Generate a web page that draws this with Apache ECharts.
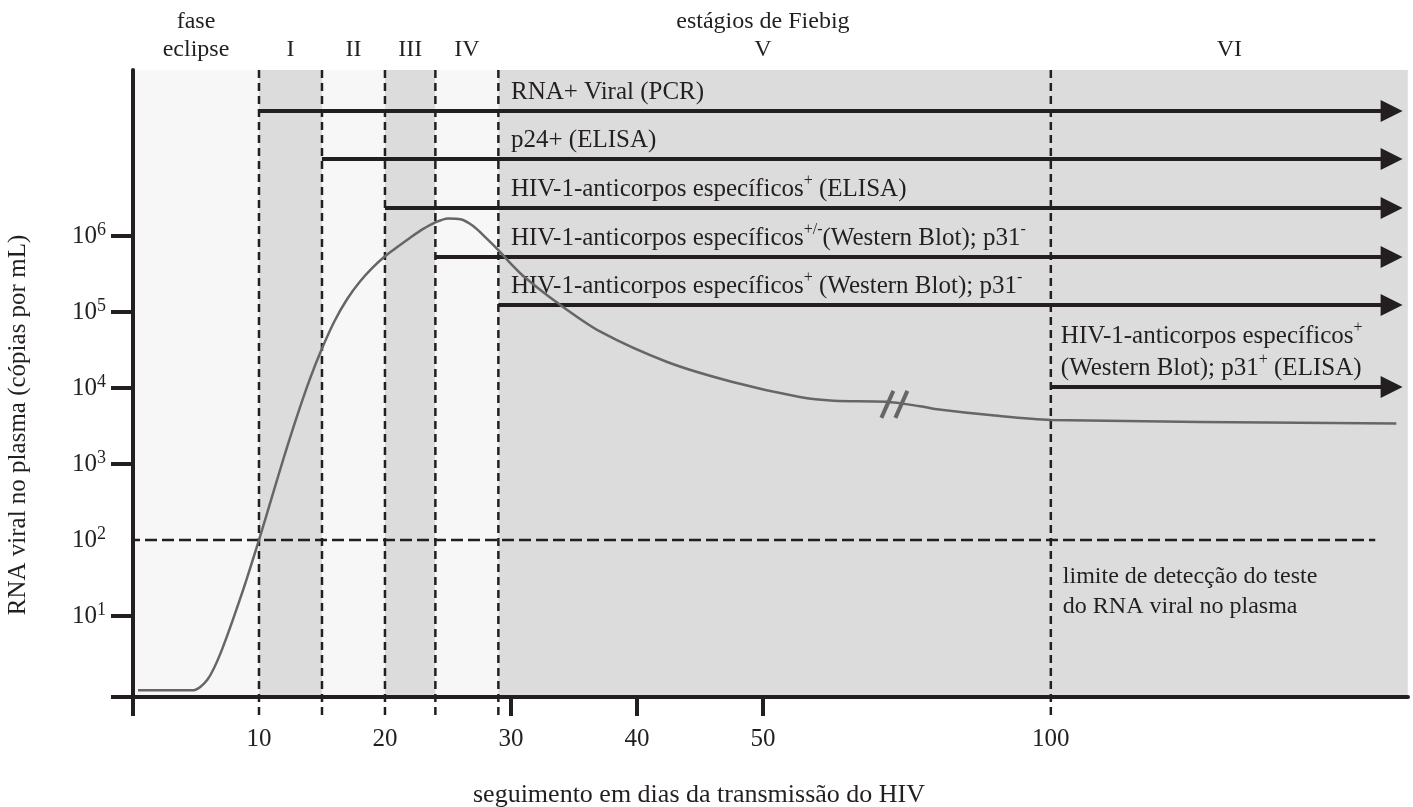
<!DOCTYPE html>
<html>
<head>
<meta charset="utf-8">
<script src="https://cdn.jsdelivr.net/npm/echarts@6/dist/echarts.min.js"></script>
<style>
  html, body { margin: 0; padding: 0; background: #fff; }
  #chart { width: 1413px; height: 807px; }
</style>
</head>
<body>
<div id="chart"></div>
<script>
// fases (dias desde a transmissão)
const phaseNames = ['fase\neclipse', 'I', 'II', 'III', 'IV', 'V', 'VI'];
const phaseStart = [0, 10, 15, 20, 24, 29, 100];
const phaseEnd = [10, 15, 20, 24, 29, 100, 162];

// curva da carga viral (dias, cópias por mL)
const viralDays = [0.4, 4.7, 5.9, 7.0, 8.7, 10, 11, 12, 13, 14, 15, 16, 17, 18, 19, 20, 21, 22, 23, 24, 25, 26, 27, 28, 29, 30, 31, 33.6, 37.1, 42.4, 47.6, 56.4, 62.3, 71.4, 77.3, 80.6, 89.4, 100, 160];
const viralLoad = [1.05, 1.05, 1.45, 3.4, 21, 100, 355, 1260, 4170, 1.26e4, 3.3e4, 7.6e4, 1.48e5, 2.5e5, 3.8e5, 5.4e5, 7.2e5, 9.5e5, 1.23e6, 1.51e6, 1.70e6, 1.66e6, 1.35e6, 9.5e5, 6.5e5, 4.3e5, 2.95e5, 1.35e5, 5.5e4, 2.2e4, 1.2e4, 7.6e3, 6.8e3, 6.6e3, 5.75e3, 5.2e3, 4.4e3, 3.8e3, 3.4e3];

// testes positivos a partir do dia
const testLabels = [
    'RNA+ Viral (PCR)',
    'p24+ (ELISA)',
    'HIV-1-anticorpos específicos{s|+} (ELISA)',
    'HIV-1-anticorpos específicos{s|+/-}(Western Blot); p31{s|-}',
    'HIV-1-anticorpos específicos{s|+} (Western Blot); p31{s|-}',
    'HIV-1-anticorpos específicos{s|+}\n(Western Blot); p31{s|+} (ELISA)'
];
const testStartDay = [10, 15, 20, 24, 29, 100];

const dayTicks = [10, 20, 30, 40, 50, 100];
const logTicks = [1, 2, 3, 4, 5, 6];
const detectionLimit = 100;
const axisBreakDay = 73;

// eixo x quebrado: linear até 50 dias, comprimido depois
const linearUntil = 50, compress = 0.457;
function pos(d) { return d <= linearUntil ? d : linearUntil + (d - linearUntil) * compress; }
function dayOf(p) { return p <= linearUntil ? p : linearUntil + (p - linearUntil) / compress; }

const ink = '#231f20';
const serif = "'Liberation Serif', 'Times New Roman', serif";
const xMax = 101.2, yMin = -0.066, yMax = 8.184;
const arrowRows = [7.645, 7.013, 6.368, 5.724, 5.092, 4.013];
const bandColor = i => (i === 0 || i === 2 || i === 4) ? '#f7f7f7' : '#dcdcdc';

const chart = echarts.init(document.getElementById('chart'));

const option = {
    animation: false,
    grid: { left: 133, right: 5, top: 70, bottom: 110 },
    xAxis: {
        type: 'value',
        min: 0,
        max: xMax,
        z: 8,
        splitLine: { show: false },
        axisLine: { onZero: false, lineStyle: { color: ink, width: 4 } },
        axisTick: { customValues: [0, 30, 40, 50], length: 19, lineStyle: { color: ink, width: 4 } },
        axisLabel: {
            customValues: dayTicks.map(pos),
            formatter: v => String(Math.round(dayOf(v))),
            margin: 30,
            color: ink,
            fontSize: 25,
            fontFamily: serif
        }
    },
    yAxis: {
        type: 'value',
        min: yMin,
        max: yMax,
        z: 8,
        splitLine: { show: false },
        axisLine: { show: true, onZero: false, lineStyle: { color: ink, width: 4 } },
        axisTick: { show: true, customValues: [yMin, 1, 3, 4, 5, 6], length: 22, lineStyle: { color: ink, width: 4 } },
        axisLabel: {
            customValues: logTicks,
            formatter: v => '{b|10}{s|' + v + '}',
            margin: 27,
            color: ink,
            rich: {
                b: { fontSize: 25, fontFamily: serif, color: ink, lineHeight: 30 },
                s: { fontSize: 18, fontFamily: serif, color: ink, lineHeight: 18, verticalAlign: 'top' }
            }
        }
    },
    series: [
        {
            // faixas das fases
            type: 'line',
            data: [],
            z: 1,
            silent: true,
            markArea: {
                silent: true,
                label: { show: false },
                data: phaseStart.map((s, i) => [
                    { xAxis: pos(s), itemStyle: { color: bandColor(i) } },
                    { xAxis: pos(phaseEnd[i]) }
                ])
            }
        },
        // limites das fases (tracejado)
        ...phaseStart.slice(1).map(d => ({
            type: 'line',
            data: [[pos(d), yMax], [pos(d), yMin - 0.25]],
            clip: false,
            symbol: 'none',
            silent: true,
            z: 3,
            lineStyle: { color: ink, width: 2.5, type: [8, 5] }
        })),
        {
            // limite de detecção
            type: 'line',
            data: [[-22 / 12.6, Math.log10(detectionLimit)], [98.6, Math.log10(detectionLimit)]],
            clip: false,
            symbol: 'none',
            silent: true,
            z: 3,
            lineStyle: { color: ink, width: 2.5, type: [12, 5] }
        },
        {
            // setas dos testes
            type: 'line',
            data: [],
            z: 4,
            silent: true,
            markLine: {
                silent: true,
                symbol: ['none', 'triangle'],
                symbolSize: 22,
                label: { show: false },
                lineStyle: { color: ink, width: 4, type: 'solid' },
                emphasis: { disabled: true },
                data: testStartDay.map((d, i) => [
                    { coord: [pos(d), arrowRows[i]] },
                    { coord: [xMax - 1.3, arrowRows[i]] }
                ])
            }
        },
        {
            // carga viral
            type: 'line',
            data: viralDays.map((d, i) => [pos(d), Math.log10(viralLoad[i])]),
            smooth: 0.3,
            symbol: 'none',
            silent: true,
            z: 6,
            lineStyle: { color: '#666', width: 2.5 }
        }
    ]
};

chart.setOption(option);

// textos e marca de quebra
const px = (p, L) => chart.convertToPixel({ gridIndex: 0 }, [p, L]);
const txt = (x, y, text, extra) => ({
    type: 'text', x: x, y: y, z: 5, silent: true,
    style: Object.assign({
        text: text, fill: ink, fontSize: 25, fontFamily: serif, lineHeight: 32,
        rich: { s: { fontSize: 16, fontFamily: serif, fill: ink, lineHeight: 12, verticalAlign: 'top' } }
    }, extra || {})
});

const graphics = [];
phaseNames.forEach((name, i) => {
    const mid = i === 5 ? 50 : (pos(phaseStart[i]) + pos(phaseEnd[i])) / 2;
    graphics.push(txt(px(mid, 0)[0], 64, name, { align: 'center', verticalAlign: 'bottom', fontSize: 24, lineHeight: 28 }));
});
graphics.push(txt(px(50, 0)[0], 36, 'estágios de Fiebig', { align: 'center', verticalAlign: 'bottom', fontSize: 24, lineHeight: 28 }));

testLabels.forEach((t, i) => {
    const start = testStartDay[i] < 30 ? 30 : testStartDay[i];
    const p = px(pos(start), arrowRows[i]);
    graphics.push(txt(p[0] + (start === 30 ? 0 : 10), p[1] - 3, t, { align: 'left', verticalAlign: 'bottom' }));
});

const lim = px(pos(100), Math.log10(detectionLimit));
graphics.push(txt(lim[0] + 12, lim[1] + 22, 'limite de detecção do teste\ndo RNA viral no plasma', { align: 'left', verticalAlign: 'top', fontSize: 24, lineHeight: 30 }));

const yName = txt(18, 425, 'RNA viral no plasma (cópias por mL)', { align: 'center', verticalAlign: 'middle', fontSize: 25 });
yName.rotation = Math.PI / 2;
graphics.push(yName);

graphics.push(txt(699, 795, 'seguimento em dias da transmissão do HIV', { align: 'center', verticalAlign: 'middle', fontSize: 26 }));

// marca "//" na curva
const bi = viralDays.findIndex(d => d > axisBreakDay);
const t = (axisBreakDay - viralDays[bi - 1]) / (viralDays[bi] - viralDays[bi - 1]);
const breakL = Math.log10(viralLoad[bi - 1]) * (1 - t) + Math.log10(viralLoad[bi]) * t;
const bp = px(pos(axisBreakDay), breakL);
[-8, 6].forEach(dx => {
    graphics.push({
        type: 'line', z: 7, silent: true,
        shape: { x1: bp[0] + dx - 6, y1: bp[1] + 15, x2: bp[0] + dx + 6, y2: bp[1] - 12 },
        style: { stroke: '#666', lineWidth: 4 }
    });
});

chart.setOption({ graphic: graphics });
</script>
</body>
</html>
